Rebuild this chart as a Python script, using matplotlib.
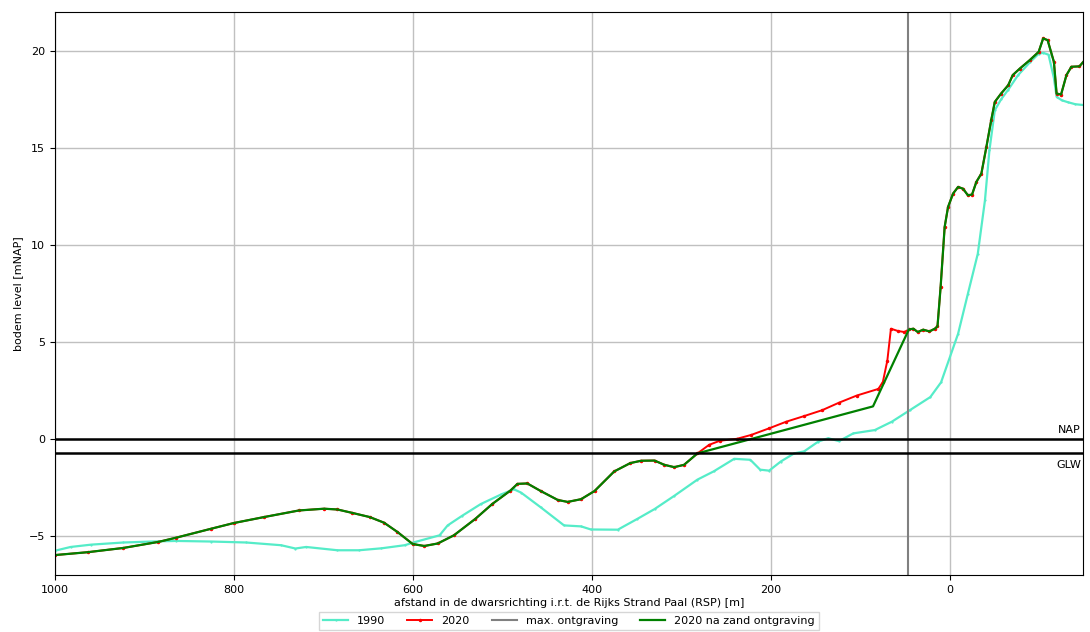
import numpy as np
import matplotlib
matplotlib.use("Agg")
from matplotlib import pyplot as plt

# 1990 profile (distance to RSP [m], bed level [mNAP])
x_1990 = [1000, 982, 959, 923, 884, 864, 825, 786, 747, 731, 719, 684, 660, 635, 609,
          597, 570, 561, 545, 524, 501, 487, 479, 457, 431, 412, 401, 371, 349, 330,
          308, 282, 264, 241, 223, 212, 202, 189, 174, 163, 147, 136, 124, 108, 84,
          65, 45, 22, 10, -9, -20, -31, -39, -44, -50, -57, -65, -76, -89, -99,
          -104, -110, -116, -119, -125, -132, -140, -151]
z_1990 = [-5.75, -5.55, -5.43, -5.32, -5.26, -5.24, -5.27, -5.32, -5.46, -5.63, -5.55,
          -5.72, -5.72, -5.62, -5.46, -5.29, -4.95, -4.44, -3.95, -3.34, -2.84, -2.58,
          -2.75, -3.51, -4.44, -4.49, -4.65, -4.66, -4.1, -3.6, -2.92, -2.08, -1.66,
          -1.01, -1.06, -1.57, -1.62, -1.15, -0.73, -0.63, -0.12, 0.05, -0.1, 0.3,
          0.47, 0.9, 1.49, 2.17, 2.93, 5.43, 7.5, 9.55, 12.3, 14.88, 16.94, 17.5,
          18.0, 18.75, 19.4, 19.85, 19.9, 19.8, 18.6, 17.63, 17.45, 17.35, 17.25, 17.2]

# 2020 profile
x_2020 = [1000, 963, 923, 884, 864, 825, 800, 766, 727, 699, 684, 668, 648, 632,
          617, 600, 587, 572, 554, 530, 511, 491, 483, 472, 457, 438, 427, 412,
          397, 375, 357, 345, 330, 319, 308, 297, 282, 269, 257, 238, 222, 202,
          183, 163, 143, 124, 104, 80, 75, 70, 66, 58, 51, 46, 41, 36, 30, 23,
          17, 14, 10.5, 6, 2.2, -3.4, -9, -14.5, -20, -24.6, -29.4, -35, -40.6,
          -46, -50, -57, -65, -70, -78, -89, -99, -104, -109, -116, -119, -124,
          -130, -135.5, -144.5, -151]
z_2020 = [-5.97, -5.82, -5.6, -5.29, -5.07, -4.61, -4.32, -4.01, -3.67, -3.58, -3.62,
          -3.79, -4.01, -4.3, -4.78, -5.4, -5.5, -5.37, -4.95, -4.1, -3.33, -2.65,
          -2.3, -2.28, -2.67, -3.13, -3.23, -3.09, -2.67, -1.66, -1.23, -1.11, -1.1,
          -1.32, -1.44, -1.32, -0.73, -0.29, -0.08, 0.02, 0.22, 0.56, 0.9, 1.19,
          1.49, 1.88, 2.25, 2.59, 2.95, 4.05, 5.69, 5.57, 5.52, 5.65, 5.69, 5.52,
          5.64, 5.55, 5.69, 5.81, 7.84, 10.93, 11.96, 12.65, 12.99, 12.9, 12.56,
          12.6, 13.25, 13.68, 15.05, 16.43, 17.37, 17.8, 18.23, 18.75, 19.09, 19.52,
          19.95, 20.64, 20.55, 19.43, 17.8, 17.75, 18.75, 19.18, 19.2, 19.55]

# 2020 after sand excavation: straight fill between these points
exc_start = 282
exc_knee = (86, 1.69)
exc_end = 46
max_ontgraving = 47

nap = 0.0
glw = -0.7

x_2020 = np.array(x_2020, dtype=float)
z_2020 = np.array(z_2020)
keep_left = x_2020 >= exc_start
keep_right = x_2020 <= exc_end
x_na = np.concatenate([x_2020[keep_left], [exc_knee[0]], x_2020[keep_right]])
z_na = np.concatenate([z_2020[keep_left], [exc_knee[1]], z_2020[keep_right]])

fs = 8

fig, ax = plt.subplots(figsize=(10.9, 6.32), dpi=100)
ax.plot(x_1990, z_1990, '.-', color='#55ecc8', lw=1.6, ms=1.2, label='1990')
ax.plot(x_2020, z_2020, '.-', color='red', lw=1.4, ms=3, label='2020')
ax.axvline(max_ontgraving, color='gray', lw=1.5, label='max. ontgraving')
ax.plot(x_na, z_na, '-', color='green', lw=1.6, label='2020 na zand ontgraving')

ax.axhline(nap, color='black', lw=1.8)
ax.axhline(glw, color='black', lw=1.8)
ax.text(-146, nap + 0.2, 'NAP', ha='right', va='bottom', fontsize=fs)
ax.text(-146, glw - 0.35, 'GLW', ha='right', va='top', fontsize=fs)

ax.set_xlim(1000, -149)
ax.set_ylim(-7, 22)
ax.set_xticks([1000, 800, 600, 400, 200, 0])
ax.set_yticks([-5, 0, 5, 10, 15, 20])
ax.tick_params(labelsize=fs)
ax.grid(True, color='#c0c0c0', lw=1)
ax.set_xlabel("afstand in de dwarsrichting i.r.t. de Rijks Strand Paal (RSP) [m]", fontsize=fs, labelpad=2)
ax.set_ylabel("bodem level [mNAP]", fontsize=fs)
ax.legend(loc='upper center', bbox_to_anchor=(0.5, -0.066), ncol=4, fontsize=fs,
          frameon=True, borderaxespad=0, handlelength=2.25, columnspacing=2.0,
          borderpad=0.35, fancybox=False)

plt.subplots_adjust(left=0.05, right=0.994, top=0.981, bottom=0.09)
plt.savefig("out.png", dpi=100)
